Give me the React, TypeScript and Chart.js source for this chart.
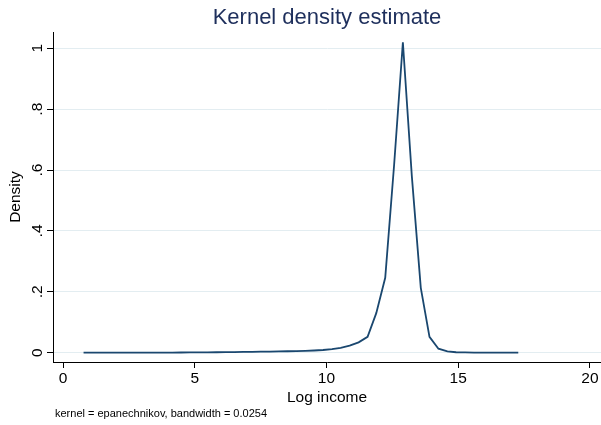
import React, { useEffect, useRef } from "react";
import { Chart, registerables } from "chart.js";

Chart.register(...registerables);

// Evaluation points of the density estimate (log income)
const LOG_INCOME = [
  0.78, 1.12, 1.45, 1.79, 2.13, 2.46, 2.8, 3.14, 3.47, 3.81,
  4.15, 4.48, 4.82, 5.16, 5.49, 5.83, 6.17, 6.5, 6.84, 7.18,
  7.51, 7.85, 8.19, 8.52, 8.86, 9.2, 9.53, 9.87, 10.21, 10.54,
  10.88, 11.22, 11.56, 11.89, 12.23, 12.57, 12.9, 13.24, 13.58, 13.91,
  14.25, 14.59, 14.92, 15.26, 15.6, 15.93, 16.27, 16.61, 16.94, 17.28,
];

// Estimated density at each point
const DENSITY = [
  0.0002, 0.0002, 0.0002, 0.0002, 0.0002, 0.0002, 0.0002, 0.0002, 0.0002, 0.0004,
  0.0005, 0.0006, 0.0008, 0.001, 0.0012, 0.0015, 0.0018, 0.0021, 0.0025, 0.0029,
  0.0033, 0.0037, 0.0042, 0.0047, 0.0053, 0.006, 0.0072, 0.0088, 0.0115, 0.016,
  0.023, 0.034, 0.052, 0.13, 0.246, 0.62, 1.02, 0.58, 0.213, 0.052,
  0.013, 0.004, 0.0015, 0.0008, 0.0005, 0.0004, 0.0003, 0.0003, 0.0002, 0.0002,
];

const X_TICKS = [0, 5, 10, 15, 20];
const Y_TICKS = [0, 0.2, 0.4, 0.6, 0.8, 1];

const TITLE = "Kernel density estimate";
const X_TITLE = "Log income";
const Y_TITLE = "Density";
const NOTE = "kernel = epanechnikov, bandwidth = 0.0254";

const FONT = '"Liberation Sans", Arial, Helvetica, sans-serif';
const LINE_COLOR = "#1a476f";
const TITLE_COLOR = "#1e2f5c";
const GRID_COLOR = "#e3edf1";

const fmtY = (v: number) =>
  v === 0 ? "0" : v === 1 ? "1" : String(Math.round(v * 10) / 10).replace(/^0\./, ".");

// Titles, rotated y tick labels and the note below the plot
const textPlugin = {
  id: "stataText",
  afterDraw(chart: any) {
    const { ctx, chartArea } = chart;
    const yScale = chart.scales.y;
    const cx = (chartArea.left + chartArea.right) / 2;
    const cy = (chartArea.top + chartArea.bottom) / 2;
    ctx.save();

    ctx.fillStyle = TITLE_COLOR;
    ctx.font = `22px ${FONT}`;
    ctx.textAlign = "center";
    ctx.textBaseline = "alphabetic";
    ctx.fillText(TITLE, cx, 24);

    ctx.fillStyle = "#000";
    ctx.font = `15.5px ${FONT}`;
    ctx.fillText(X_TITLE, cx, 402);

    for (const v of Y_TICKS) {
      const py = yScale.getPixelForValue(v);
      ctx.save();
      ctx.translate(42, py);
      ctx.rotate(-Math.PI / 2);
      ctx.textAlign = "center";
      ctx.textBaseline = "alphabetic";
      ctx.fillText(fmtY(v), 0, 0);
      ctx.restore();
    }

    ctx.save();
    ctx.translate(16, cy);
    ctx.rotate(-Math.PI / 2);
    ctx.textAlign = "center";
    ctx.textBaseline = "middle";
    ctx.fillText(Y_TITLE, 0, 0);
    ctx.restore();

    ctx.font = `11px ${FONT}`;
    ctx.textAlign = "left";
    ctx.fillText(NOTE, 55, 417);

    ctx.restore();
  },
};

export default function App() {
  const canvasRef = useRef<HTMLCanvasElement | null>(null);

  useEffect(() => {
    document.body.style.margin = "0";
    const canvas = canvasRef.current;
    if (!canvas) return;
    const chart = new Chart(canvas, {
      type: "line",
      data: {
        datasets: [
          {
            data: LOG_INCOME.map((x, i) => ({ x, y: DENSITY[i] })),
            borderColor: LINE_COLOR,
            borderWidth: 1.8,
            pointRadius: 0,
            tension: 0,
            fill: false,
          },
        ],
      },
      options: {
        animation: false,
        responsive: false,
        devicePixelRatio: 1,
        layout: { padding: { top: 32, left: 0, right: 0, bottom: 0 } },
        plugins: {
          legend: { display: false },
          tooltip: { enabled: false },
          title: { display: false },
        },
        scales: {
          x: {
            type: "linear",
            min: -0.38,
            max: 20.42,
            afterBuildTicks: (s: any) => {
              s.ticks = X_TICKS.map((value) => ({ value }));
            },
            afterFit: (s: any) => {
              s.height = 63;
            },
            grid: {
              drawOnChartArea: false,
              drawTicks: true,
              tickLength: 6,
              tickColor: "#000",
              tickWidth: 1,
            },
            border: { display: true, color: "#000", width: 1 },
            ticks: {
              autoSkip: false,
              maxRotation: 0,
              minRotation: 0,
              padding: 1,
              color: "#000",
              font: { family: FONT, size: 15.5 },
              callback: (v: any) => String(v),
            },
          },
          y: {
            type: "linear",
            min: -0.0306,
            max: 1.0535,
            afterBuildTicks: (s: any) => {
              s.ticks = Y_TICKS.map((value) => ({ value }));
            },
            afterFit: (s: any) => {
              s.width = 53;
            },
            grid: {
              color: GRID_COLOR,
              lineWidth: 1,
              drawTicks: true,
              tickLength: 6,
              tickColor: "#000",
              tickWidth: 1,
            },
            border: { display: true, color: "#000", width: 1 },
            ticks: { display: false },
          },
        },
      },
      plugins: [textPlugin],
    } as any);
    return () => chart.destroy();
  }, []);

  return (
    <div style={{ position: "absolute", left: 0, top: 0, width: 601, height: 425, background: "#fff" }}>
      <canvas ref={canvasRef} width={601} height={425} />
    </div>
  );
}
